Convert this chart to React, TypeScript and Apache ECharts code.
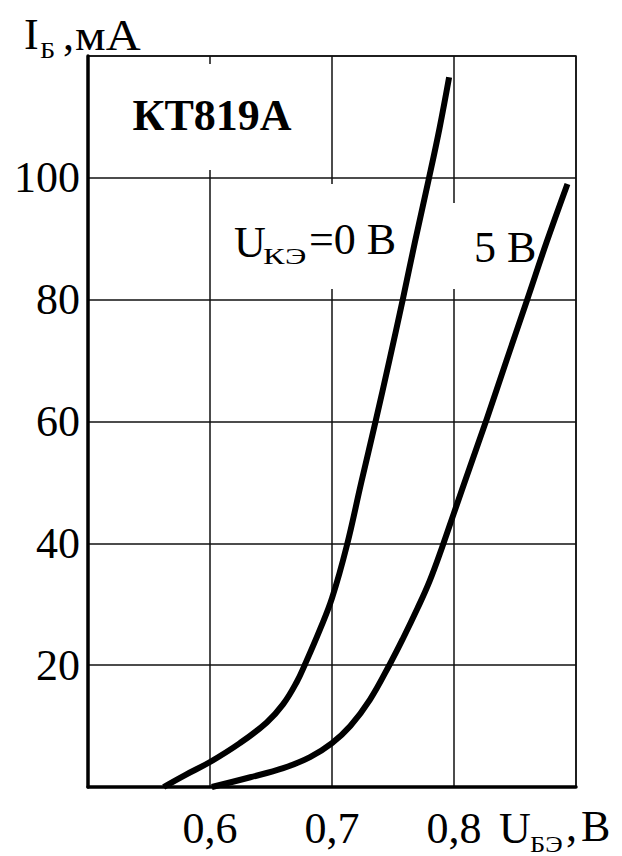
import React, { useEffect, useRef } from "react";
import * as echarts from "echarts";

// Curve U_КЭ = 0 В : (U_БЭ, I_Б)
const curve0U = [0.562, 0.58, 0.6, 0.6245, 0.6465, 0.66, 0.671, 0.678, 0.69, 0.7, 0.712, 0.724, 0.7357, 0.747, 0.758, 0.768, 0.779, 0.788, 0.796];
const curve0I = [0, 2, 4.1, 7.2, 10.6, 13.6, 17.2, 20.2, 25.8, 31, 39.5, 50, 60, 70, 80, 89.5, 99.5, 108, 116.5];

// Curve U_КЭ = 5 В
const curve5U = [0.6015, 0.633, 0.66, 0.682, 0.7, 0.715, 0.731, 0.7475, 0.758, 0.77, 0.78, 0.79, 0.8, 0.813, 0.827, 0.843, 0.86, 0.876, 0.893];
const curve5I = [0, 1.6, 3.1, 4.9, 7.2, 10, 14.3, 20.2, 24.3, 29.3, 33.8, 39.2, 45, 52.5, 60.5, 70, 80, 89.5, 99];

const xTicksShown = [0.6, 0.7, 0.8];
const yTicksShown = [20, 40, 60, 80, 100];

const FONT = "'Liberation Serif', 'DejaVu Serif', serif";

export default function App() {
  const ref = useRef<HTMLDivElement>(null);

  useEffect(() => {
    if (!ref.current) return;
    const chart = echarts.init(ref.current, null, { renderer: "svg" });

    const txt = (text: string, x: number, y: number, size: number, extra: any = {}, sx = 1) => ({
      type: "text",
      x,
      y,
      z: 3,
      scaleX: sx,
      style: {
        text,
        fontSize: size,
        fontFamily: FONT,
        fill: "#000",
        align: "left",
        verticalAlign: "middle",
        ...extra,
      },
    });
    const whiteBox = (x: number, y: number, w: number, h: number) => ({
      type: "rect",
      z: 1,
      shape: { x, y, width: w, height: h },
      style: { fill: "#fff" },
    });

    const lineSeries = (us: number[], is: number[]) => ({
      type: "line",
      z: 5,
      data: us.map((u, i) => [u, is[i]]),
      showSymbol: false,
      smooth: 0.4,
      lineStyle: { color: "#000", width: 6, join: "round", cap: "butt" },
    });

    const option: any = {
      animation: false,
      backgroundColor: "#fff",
      grid: {
        left: 88,
        top: 56,
        right: 46,
        bottom: 69,
        show: true,
        borderColor: "#111",
        borderWidth: 1.5,
      },
      xAxis: {
        type: "value",
        min: 0.5,
        max: 0.9,
        interval: 0.1,
        axisLine: { show: true, onZero: false, lineStyle: { color: "#000", width: 3.5 } },
        axisTick: { show: false },
        splitLine: { show: true, lineStyle: { color: "#111", width: 1.5 } },
        axisLabel: {
          margin: 19,
          fontSize: 44,
          fontFamily: FONT,
          color: "#000",
          formatter: (v: number) => {
            const hit = xTicksShown.find((t) => Math.abs(t - v) < 1e-6);
            return hit !== undefined ? hit.toFixed(1).replace(".", ",") : "";
          },
        },
      },
      yAxis: {
        type: "value",
        min: 0,
        max: 120,
        interval: 20,
        axisLine: { show: true, onZero: false, lineStyle: { color: "#000", width: 3.5 } },
        axisTick: { show: false },
        splitLine: { show: true, lineStyle: { color: "#111", width: 1.5 } },
        axisLabel: {
          margin: 8,
          fontSize: 44,
          fontFamily: FONT,
          color: "#000",
          formatter: (v: number) => (yTicksShown.includes(v) ? String(v) : ""),
        },
      },
      series: [lineSeries(curve0U, curve0I), lineSeries(curve5U, curve5I)],
      graphic: [
        whiteBox(96, 64, 228, 106),
        whiteBox(220, 184, 200, 105),
        whiteBox(440, 203, 105, 86),
        // KT819A title
        txt("КТ819А", 212, 115, 44, { fontWeight: "bold", align: "center" }),
        // Y axis name  I_Б , мА
        txt("I", 24, 34, 44),
        txt("Б", 40, 50, 24, {}, 1.1),
        txt(",", 63, 35, 44),
        txt("мА", 75, 35, 44, {}, 1.1),
        // U_КЭ = 0 В
        txt("U", 234, 242, 44),
        txt("КЭ", 263, 256, 24, {}, 1.35),
        txt("=0 В", 309, 239, 44),
        // 5 В
        txt("5 В", 474, 247, 44),
        // X axis name U_БЭ, В
        txt("U", 499, 828, 44),
        txt("БЭ", 530, 844, 24, {}, 1.1),
        txt(",", 566, 826, 44),
        txt("В", 581, 826, 44),
      ],
    };

    chart.setOption(option);
    return () => chart.dispose();
  }, []);

  return (
    <div
      ref={ref}
      style={{ position: "fixed", left: 0, top: 0, width: 622, height: 856, background: "#fff" }}
    />
  );
}
